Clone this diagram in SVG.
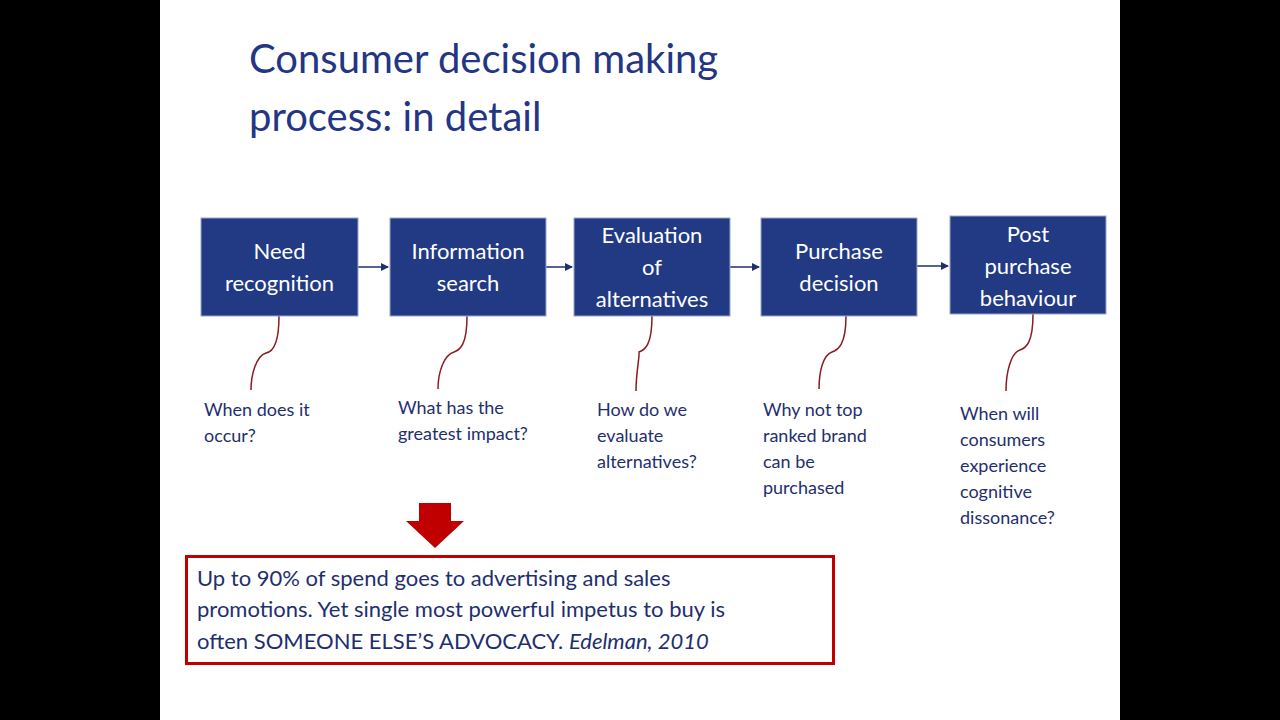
<svg xmlns="http://www.w3.org/2000/svg" width="1280" height="720" viewBox="0 0 1280 720">
<defs>
<style>
.box{fill:#223a84;stroke:#9aa6c8;stroke-width:1}
.bt{font-family:Lato,"Open Sans",sans-serif;font-size:22px;fill:#fff;text-anchor:middle}
.q{font-family:Lato,"Open Sans",sans-serif;font-size:18px;fill:#1f2f6e}
.cur{fill:none;stroke:#8b1a22;stroke-width:1.5}
.arr{stroke:#1f2f6e;stroke-width:1.5;marker-end:url(#ah)}
</style>
<marker id="ah" markerWidth="8" markerHeight="8" refX="7" refY="4" orient="auto" markerUnits="userSpaceOnUse"><path d="M0,0 L8,4 L0,8 Z" fill="#1f2f6e"/></marker>
</defs>
<rect width="1280" height="720" fill="#000"/>
<rect x="160" y="0" width="960" height="720" fill="#fff"/>
<text font-family="Lato,'Open Sans',sans-serif" font-size="40" fill="#233583"><tspan x="249" y="73">Consumer decision making</tspan><tspan x="249" y="131">process: in detail</tspan></text>
<g id="connectors">
<line class="arr" x1="358" y1="267" x2="388" y2="267"/>
<line class="arr" x1="546" y1="267" x2="572" y2="267"/>
<line class="arr" x1="730" y1="267" x2="759" y2="267"/>
<line class="arr" x1="917" y1="266" x2="948" y2="266"/>
<path class="cur" d="M279,316 C279,345 272,352 266,353 C256,356 251,375 251,390"/>
<path class="cur" d="M467,316 C467,345 460,350 454,352 C444,355 438,372 438,389"/>
<path class="cur" d="M652,316 C652,345 645,350 639,352 C640,355 636,372 636,391"/>
<path class="cur" d="M846,316 C846,345 838,350 832,352 C823,355 819,372 819,389"/>
<path class="cur" d="M1033,314 C1033,343 1026,348 1020,350 C1011,353 1006,372 1006,391"/>
</g>
<g id="n1"><rect class="box" x="201" y="218" width="157" height="98"/><text class="bt"><tspan x="279.5" y="259">Need</tspan><tspan x="279.5" y="291">recognition</tspan></text></g>
<g id="n2"><rect class="box" x="390" y="218" width="156" height="98"/><text class="bt"><tspan x="468" y="259">Information</tspan><tspan x="468" y="291">search</tspan></text></g>
<g id="n3"><rect class="box" x="574" y="218" width="156" height="98"/><text class="bt"><tspan x="652" y="243">Evaluation</tspan><tspan x="652" y="275">of</tspan><tspan x="652" y="307">alternatives</tspan></text></g>
<g id="n4"><rect class="box" x="761" y="218" width="156" height="98"/><text class="bt"><tspan x="839" y="259">Purchase</tspan><tspan x="839" y="291">decision</tspan></text></g>
<g id="n5"><rect class="box" x="950" y="216" width="156" height="98"/><text class="bt"><tspan x="1028" y="242">Post</tspan><tspan x="1028" y="274">purchase</tspan><tspan x="1028" y="306">behaviour</tspan></text></g>
<text class="q"><tspan x="204" y="416">When does it</tspan><tspan x="204" y="442">occur?</tspan></text>
<text class="q"><tspan x="398" y="414">What has the</tspan><tspan x="398" y="440">greatest impact?</tspan></text>
<text class="q"><tspan x="597" y="416">How do we</tspan><tspan x="597" y="442">evaluate</tspan><tspan x="597" y="468">alternatives?</tspan></text>
<text class="q"><tspan x="763" y="416">Why not top</tspan><tspan x="763" y="442">ranked brand</tspan><tspan x="763" y="468">can be</tspan><tspan x="763" y="494">purchased</tspan></text>
<text class="q"><tspan x="960" y="420">When will</tspan><tspan x="960" y="446">consumers</tspan><tspan x="960" y="472">experience</tspan><tspan x="960" y="498">cognitive</tspan><tspan x="960" y="524">dissonance?</tspan></text>
<path d="M419,503 H451 V521 H464 L435,548 L406,521 H419 Z" fill="#c00000"/>
<rect x="186.5" y="556.5" width="647" height="107" fill="#fff" stroke="#c00000" stroke-width="3"/>
<text font-family="Lato,'Open Sans',sans-serif" font-size="22" fill="#1f2f6e"><tspan x="197" y="586">Up to 90% of spend goes to advertising and sales</tspan><tspan x="197" y="617">promotions. Yet single most powerful impetus to buy is</tspan><tspan x="197" y="649">often SOMEONE ELSE’S ADVOCACY. <tspan font-style="italic">Edelman, 2010</tspan></tspan></text>
</svg>
